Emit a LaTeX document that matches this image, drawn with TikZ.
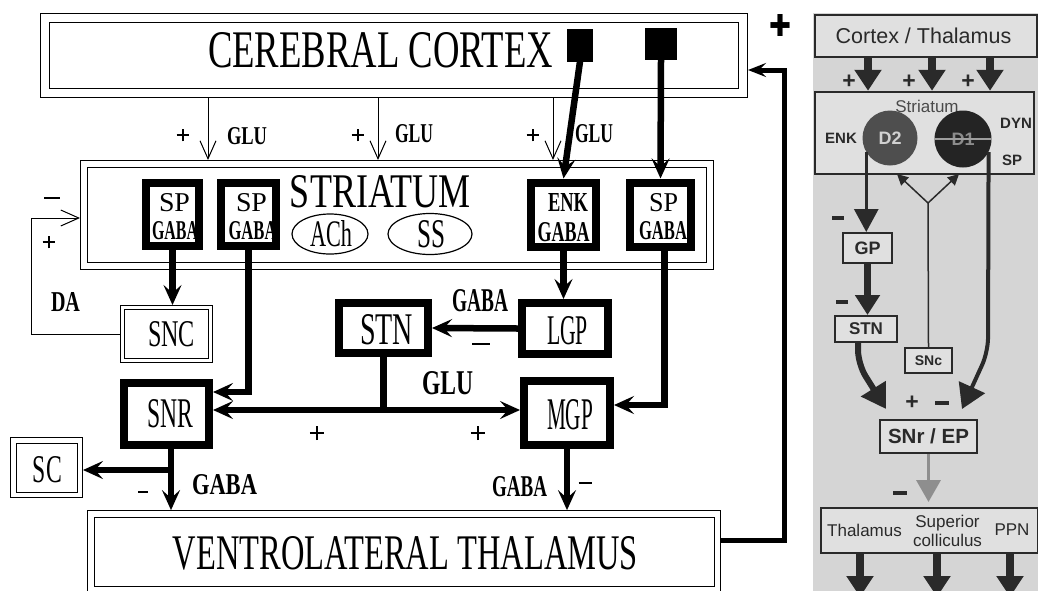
\documentclass[tikz,border=0pt]{standalone}
\usepackage{fontspec}
\usepackage{graphicx}
\newfontfamily\sansR{Liberation Sans}
\newfontfamily\serifL{Liberation Serif}
\newfontfamily\dejavu{DejaVu Sans}
\usetikzlibrary{arrows.meta,calc,shapes.geometric,shapes.misc}
\definecolor{pg}{HTML}{D5D5D5}
\definecolor{bx}{HTML}{E0E0E0}
\definecolor{dk}{HTML}{2A2A2A}
\definecolor{dtwo}{HTML}{4E4E4E}
\definecolor{done}{HTML}{242424}
\definecolor{garr}{HTML}{8E8E8E}
\newcommand{\fitt}[3]{\resizebox{#1pt}{#2pt}{#3}}
\begin{document}
\begin{tikzpicture}[x=1pt,y=-1pt,
  lbl/.style={inner sep=0pt,outer sep=0pt,anchor=center,font=\serifL},
  plbl/.style={cross out,draw,rotate=45,line width=#1,minimum size=9pt,inner sep=0pt,outer sep=0pt},
  plbl/.default=2pt,
  dbox/.style={draw,line width=1pt,double,double distance=#1,inner sep=0pt,fill=white},
  tbox/.style={draw,line width=8pt,inner sep=0pt,outer sep=4pt,fill=white},
  ovalbox/.style={ellipse,draw,line width=1.2pt,inner sep=0pt},
  blk/.style={fill=black,inner sep=0pt,outer sep=0pt},
  tarr/.style={line width=1pt,-{Straight Barb[length=18pt,width=16pt,line width=1pt]}},
  thk/.style={line width=6.5pt,line join=miter,-{Stealth[length=20pt,width=18pt,inset=8pt]}},
  thkline/.style={line width=6.5pt},
  mns/.style={inner sep=0pt,outer sep=0pt},
  rbox/.style={draw=dk,line width=2pt,fill=bx,inner sep=0pt,text=dk},
  rtxt/.style={inner sep=0pt,outer sep=0pt,text=dk,font=\sansR\bfseries},
  rarr/.style={draw=dk,line width=7.5pt,-{Triangle[length=21pt,width=26pt]}},
]
\clip (0,0) rectangle (1038,590);
\fill[white] (0,0) rectangle (1038,590);

% ---------------- left diagram: boxes ----------------
\node[dbox=8pt,outer sep=5pt,minimum width=698pt,minimum height=75pt] (cortex) at (394,55.5) {};
\node[dbox=6pt,outer sep=4pt,minimum width=626pt,minimum height=102pt] (stri) at (397,215) {};
\node[dbox=3pt,outer sep=2.5pt,minimum width=88pt,minimum height=53pt] (snc) at (166.5,334) {};
\node[dbox=4.5pt,outer sep=3.25pt,minimum width=66.5pt,minimum height=54.5pt] (sc) at (46.5,467.5) {};
\node[dbox=5.5pt,outer sep=3.75pt,minimum width=626.5pt,minimum height=76.25pt] (thal) at (404,552) {};

\node[blk,minimum width=26pt,minimum height=33pt] (sq1) at (580,45) {};
\node[blk,minimum width=32pt,minimum height=32pt] (sq2) at (661,44) {};

\node[tbox,minimum width=53pt,minimum height=63pt] (sp1) at (172.5,214.5) {};
\node[tbox,minimum width=55pt,minimum height=63pt] (sp2) at (248.5,214.5) {};
\node[tbox,minimum width=65pt,minimum height=64pt] (enk) at (563.5,214.5) {};
\node[tbox,minimum width=61pt,minimum height=64pt] (sp4) at (660.5,214.5) {};
\node[tbox,minimum width=85pt,minimum height=62pt] (snr) at (166.5,414) {};
\node[tbox,minimum width=89pt,minimum height=50pt] (stn) at (383.5,328) {};
\node[tbox,minimum width=86pt,minimum height=51pt] (lgp) at (565,328.5) {};
\node[tbox,minimum width=86pt,minimum height=64pt] (mgp) at (567,413) {};

\node[ovalbox,minimum width=76pt,minimum height=40pt] (eACh) at (330,234) {};
\node[ovalbox,minimum width=84pt,minimum height=41pt] (eSS) at (430,234) {};

% ---------------- left diagram: labels ----------------
\node[lbl] (tCortex) at (380.5,50.5) {\fitt{345}{35}{CEREBRAL CORTEX}};
\node[lbl] (tStri) at (380,192) {\fitt{180}{32}{STRIATUM}};
\node[lbl] (tACh) at (331,234) {\fitt{42}{26}{ACh}};
\node[lbl] (tSS) at (431,234) {\fitt{28}{27}{SS}};
\node[lbl] (tSP1) at (174.5,202.5) {\fitt{31}{18}{SP}};
\node[lbl] (tG1) at (175,231) {\fitt{46}{18}{\bfseries GABA}};
\node[lbl] (tSP2) at (251.5,202.5) {\fitt{31}{18}{SP}};
\node[lbl] (tG2) at (252.5,231) {\fitt{48}{18}{\bfseries GABA}};
\node[lbl] (tENK) at (568,202.5) {\fitt{40}{18}{\bfseries ENK}};
\node[lbl] (tG3) at (563.5,232) {\fitt{52}{19}{\bfseries GABA}};
\node[lbl] (tSP4) at (663.5,202.5) {\fitt{29}{18}{SP}};
\node[lbl] (tG4) at (663,231) {\fitt{48}{18}{\bfseries GABA}};

\node[lbl] (glu1) at (247,136) {\fitt{40}{17}{\bfseries GLU}};
\node[lbl] (glu2) at (414,134) {\fitt{38}{18}{\bfseries GLU}};
\node[lbl] (glu3) at (594,134) {\fitt{38}{18}{\bfseries GLU}};
\node[plbl] (plus1) at (183,135) {};
\node[plbl] (plus2) at (358,135) {};
\node[plbl] (plus3) at (533,135) {};

\node[lbl] (tDA) at (65.5,302.5) {\fitt{29}{19}{\bfseries DA}};
\node[plbl] (plusDA) at (49,242) {};
\node[mns] (minusDA) at (52,198) {\rule{16pt}{1.3pt}};

\node[lbl] (tSNC) at (171.5,334.5) {\fitt{47}{25}{SNC}};
\node[lbl] (tSNR) at (170,414) {\fitt{46}{28}{SNR}};
\node[lbl] (tSC) at (47.5,470) {\fitt{29}{26}{SC}};
\node[lbl] (tSTN) at (386.5,330) {\fitt{53}{30}{STN}};
\node[lbl] (tLGP) at (567.5,331) {\fitt{41}{28}{LGP}};
\node[lbl] (tMGP) at (570,415) {\fitt{46}{30}{MGP}};

\node[lbl] (gabaLS) at (480,301) {\fitt{56}{22}{\bfseries GABA}};
\node[mns] (minusLS) at (481,344) {\rule{18pt}{1.3pt}};
\node[lbl] (gluM) at (447.5,383.5) {\fitt{51}{23}{\bfseries GLU}};
\node[plbl=1.4pt,minimum size=10pt] (plusM1) at (317,433) {};
\node[plbl=1.4pt,minimum size=10pt] (plusM2) at (478,433) {};
\node[lbl] (gabaSN) at (224.5,485) {\fitt{65}{20}{\bfseries GABA}};
\node[mns] (minusSN) at (143,492) {\rule{10pt}{1.3pt}};
\node[lbl] (gabaMG) at (519.5,487) {\fitt{55}{20}{\bfseries GABA}};
\node[mns] (minusMG) at (585,483) {\rule{13pt}{1.3pt}};
\node[lbl] (tThal) at (405.5,553.5) {\fitt{465}{33}{VENTROLATERAL THALAMUS}};
\node[lbl] (bigplus) at (780,25) {\fitt{22}{22}{\dejavu ✚}};

% ---------------- left diagram: connectors ----------------
\coordinate (g1) at (208,0);
\coordinate (g2) at (378,0);
\coordinate (g3) at (553,0);
\draw[tarr] (cortex.south -| g1) -- (stri.north -| g1);
\draw[tarr] (cortex.south -| g2) -- (stri.north -| g2);
\draw[tarr] (cortex.south -| g3) -- (stri.north -| g3);

\draw[thk] (sq1.south) -- (enk.north);
\draw[thk] (sq2.south) -- (sp4.north);

\draw[thk] (sp1.south) -- (sp1.south |- snc.north);
\coordinate (snrIn) at ([yshift=22pt]snr.east);
\draw[thk] (sp2.south) |- (snrIn);
\draw[thk] (enk.south) -- (enk.south |- lgp.north);
\coordinate (sp4Out) at ([xshift=4pt]sp4.south);
\coordinate (mgpIn) at ([yshift=8pt]mgp.east);
\draw[thk] (sp4Out) |- (mgpIn);
\draw[thk] (lgp.west) -- (stn.east);

\coordinate (jn) at (384,410);
\draw[thkline] (stn.south) -- (stn.south |- jn);
\draw[thk] (jn) -- (jn -| snr.east);
\draw[thk] (jn) -- (jn -| mgp.west);

\coordinate (snrOut) at ([xshift=4.5pt]snr.south);
\draw[thk] (snrOut) -- (snrOut |- thal.north);
\coordinate (br) at (171,470);
\draw[thk] (br) -- (br -| sc.east);
\draw[thk] (mgp.south) -- (mgp.south |- thal.north);

\coordinate (da) at (31,218);
\draw[tarr] (snc.west) -| (da) -- (da -| stri.west);

\coordinate (thOut) at ([yshift=12pt]thal.east);
\coordinate (fb) at (784,70);
\draw[line width=5pt,line join=miter,-{Stealth[length=18pt,width=14pt,inset=7pt]}] (thOut) -| (fb) -- (fb -| cortex.east);

% ---------------- right panel ----------------
\fill[pg] (813,13) rectangle (1040,592);
\node[rbox,minimum width=222pt,minimum height=42pt] (ct) at (926,36) {};
\node[inner sep=0pt,text=dk,font=\sansR\fontsize{21.5}{22}\selectfont] (tCt) at (923.5,36) {Cortex / Thalamus};
\node[rbox,line width=2.5pt,minimum width=219pt,minimum height=82pt] (rstr) at (924.5,133) {};
\node[inner sep=0pt,text=dk!85,font=\sansR\fontsize{17}{17}\selectfont] (tRStr) at (927,106) {Striatum};
\node[rtxt,font=\sansR\bfseries\fontsize{15}{15}\selectfont] (tENKr) at (841,138) {ENK};
\node[rtxt,font=\sansR\bfseries\fontsize{15}{15}\selectfont] (tDYN) at (1016,123) {DYN};
\node[rtxt,font=\sansR\bfseries\fontsize{15}{15}\selectfont] (tSPr) at (1012,160) {SP};

\node[circle,fill=dtwo,inner sep=0pt,minimum size=55pt,text=black!18,font=\sansR\bfseries\fontsize{18}{18}\selectfont] (d2) at (890,138) {D2};
\node[circle,fill=done,inner sep=0pt,minimum size=57pt,text=black!45,font=\sansR\bfseries\fontsize{18}{18}\selectfont] (d1) at (963,139) {D1};
\draw[black!38,line width=1.3pt] (d1.west) -- (d1.east);

\node[rbox,minimum width=49pt,minimum height=30pt,font=\sansR\bfseries\fontsize{18}{18}\selectfont] (gp) at (867.5,248) {GP};
\node[rbox,minimum width=62pt,minimum height=26pt,font=\sansR\bfseries\fontsize{17}{17}\selectfont] (stnR) at (866,329) {STN};
\node[rbox,minimum width=47pt,minimum height=25pt,font=\sansR\bfseries\fontsize{14}{14}\selectfont] (sncR) at (928.5,360.5) {SNc};
\node[rbox,minimum width=97pt,minimum height=33pt,font=\sansR\bfseries\fontsize{20.5}{20.5}\selectfont] (snrEP) at (928.5,436.5) {SNr / EP};
\node[rbox,minimum width=217pt,minimum height=45pt] (bot) at (929.5,530.5) {};
\node[inner sep=0pt,text=dk,font=\sansR\fontsize{17}{17}\selectfont] (tThR) at (864.5,530) {Thalamus};
\node[inner sep=0pt,text=dk,align=center,font=\sansR\fontsize{17}{19}\selectfont] (tSup) at (947.5,531) {Superior\\colliculus};
\node[inner sep=0pt,text=dk,font=\sansR\fontsize{17}{17}\selectfont] (tPPN) at (1012,530) {PPN};

% right signs
\node[rtxt,font=\sansR\bfseries\fontsize{23}{23}\selectfont] (rp1) at (849,82) {+};
\node[rtxt,font=\sansR\bfseries\fontsize{23}{23}\selectfont] (rp2) at (909,82) {+};
\node[rtxt,font=\sansR\bfseries\fontsize{23}{23}\selectfont] (rp3) at (968,82) {+};
\node[rtxt,font=\sansR\bfseries\fontsize{23}{23}\selectfont] (rp4) at (912,403) {+};
\node[mns,text=dk] (rm1) at (838,218) {\rule{12pt}{3.5pt}};
\node[mns,text=dk] (rm2) at (842,302) {\rule{12pt}{3.5pt}};
\node[mns,text=dk] (rm3) at (942,403) {\rule{14pt}{3.5pt}};
\node[mns,text=dk] (rm4) at (900,493) {\rule{14pt}{3.5pt}};

% right connectors
\coordinate (a1) at (868,0);
\coordinate (a2) at (932,0);
\coordinate (a3) at (990,0);
\draw[rarr] (ct.south -| a1) -- (rstr.north -| a1);
\draw[rarr] (ct.south -| a2) -- (rstr.north -| a2);
\draw[rarr] (ct.south -| a3) -- (rstr.north -| a3);

\draw[draw=dk,line width=3pt,-{Triangle[length=23pt,width=24pt]}] (d2.211) -- (d2.211 |- gp.north);
\draw[draw=dk,line width=6.5pt,-{Triangle[length=20pt,width=24pt]}] (gp.south) -- (gp.south |- stnR.north);

\coordinate (vj) at (928,203);
\coordinate (va) at (897,174);
\coordinate (vb) at (959,174);
\draw[draw=dk,line width=1.5pt] (sncR.north) -- (vj);
\draw[draw=dk,line width=1.5pt,-{Triangle[length=11pt,width=11pt]}] (vj) -- (va);
\draw[draw=dk,line width=1.5pt,-{Triangle[length=11pt,width=11pt]}] (vj) -- (vb);

\coordinate (tipL) at (886,409);
\coordinate (tipR) at (962,409);
\coordinate (stnOut) at ([xshift=-8pt]stnR.south);
\coordinate (l1) at (858,364);
\coordinate (r1) at (988,352);
\draw[draw=dk,line width=6pt,rounded corners=14pt,-{Triangle[length=24pt,width=28pt]}] (stnOut) -- (l1) -- (tipL);
\draw[draw=dk,line width=4pt,rounded corners=14pt,-{Triangle[length=24pt,width=28pt]}] (d1.-27) -- (r1) -- (tipR);

\draw[draw=garr,line width=3.5pt,shorten >=5pt,-{Triangle[length=22pt,width=24pt]}] (snrEP.south) -- (snrEP.south |- bot.north);

\coordinate (b1) at (860,597);
\coordinate (b2) at (937,597);
\coordinate (b3) at (1010,597);
\draw[rarr] (bot.south -| b1) -- (b1);
\draw[rarr] (bot.south -| b2) -- (b2);
\draw[rarr] (bot.south -| b3) -- (b3);
\end{tikzpicture}
\end{document}
